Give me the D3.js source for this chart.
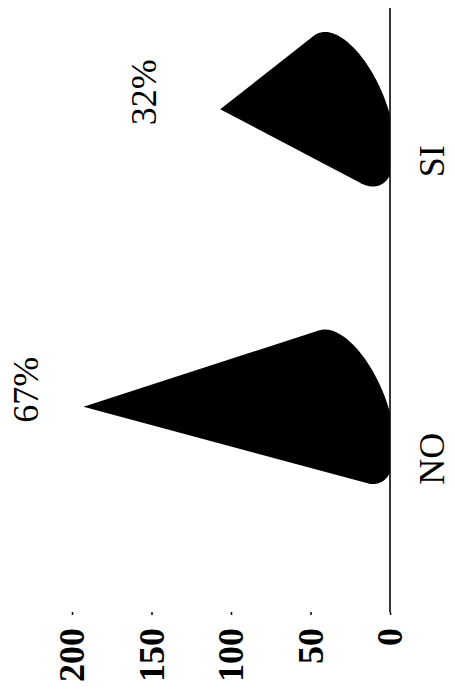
<!DOCTYPE html>
<html>
<head>
<meta charset="utf-8">
<script src="https://cdn.jsdelivr.net/npm/d3@7"></script>
<style>
  body { margin: 0; background: white; }
  svg { display: block; }
  .tickLabel { font-family: "Liberation Serif", "Times New Roman", serif; font-size: 36px; font-weight: bold; fill: black; }
  .catLabel, .pctLabel { font-family: "Liberation Serif", "Times New Roman", serif; font-size: 36px; fill: black; }
</style>
</head>
<body>
<svg id="chart-svg" width="455" height="689"></svg>
<script>
var categories = ["NO", "SI"];
var values = [167, 81];
var percentLabels = ["67%", "32%"];
var tickValues = [0, 50, 100, 150, 200];

var W = 455, H = 689;
var svg = d3.select("#chart-svg");

// the chart is drawn upright in a H x W frame and then turned a quarter left
var g = svg.append("g").attr("transform", "translate(0," + H + ") rotate(-90)");

var plot = { left: 77, right: 681 };
var x = d3.scaleBand().domain(categories).range([plot.left, plot.right]).paddingOuter(0.015).paddingInner(0);
var y = d3.scaleLinear().domain([0, 200]).range([390, 72]);

// 3d look: cones sit back in depth, base is a tilted ellipse
var depth = { dx: 52, dy: 41 };
var cone = { a: 82, b: 37, tilt: -22 * Math.PI / 180 };

function conePoints(d, i) {
  var cx = x(d) + x.bandwidth() / 2 + depth.dx;
  var cy = y(0) - depth.dy;
  var pts = d3.range(0, 2 * Math.PI, Math.PI / 90).map(function(t) {
    var ex = cone.a * Math.cos(t), ey = cone.b * Math.sin(t);
    return [cx + ex * Math.cos(cone.tilt) - ey * Math.sin(cone.tilt),
            cy + ex * Math.sin(cone.tilt) + ey * Math.cos(cone.tilt)];
  });
  pts.push([cx, y(values[i]) - depth.dy]);
  return d3.polygonHull(pts);
}

// clip the bases at the floor line
g.append("clipPath").attr("id", "floor-clip")
  .append("rect")
  .attr("x", 0).attr("y", 0)
  .attr("width", H).attr("height", y(0));

// Cones
g.selectAll(".cone")
  .data(categories)
  .enter()
  .append("path")
  .attr("class", "cone")
  .attr("clip-path", "url(#floor-clip)")
  .attr("d", function(d, i) {
    return d3.line().curve(d3.curveLinearClosed)(conePoints(d, i));
  })
  .style("fill", "black");

// Floor line
g.append("line")
  .attr("x1", plot.left)
  .attr("x2", plot.right)
  .attr("y1", y(0))
  .attr("y2", y(0))
  .style("stroke", "black")
  .style("stroke-width", 1.6);

// Value axis, no domain line
var yAxis = g.append("g")
  .attr("transform", "translate(" + plot.left + ",0)")
  .call(d3.axisLeft(y).tickValues(tickValues).tickSize(3).tickPadding(13));
yAxis.select(".domain").remove();
yAxis.selectAll(".tick line").style("stroke", "black").style("stroke-width", 1.5);
yAxis.selectAll(".tick text").attr("class", "tickLabel").attr("font-size", null).attr("font-family", null);
yAxis.attr("font-size", null).attr("font-family", null);

// Category labels
g.selectAll(".catLabel")
  .data(categories)
  .enter()
  .append("text")
  .attr("class", "catLabel")
  .attr("x", function(d) { return x(d) + x.bandwidth() / 2; })
  .attr("y", y(0) + 54)
  .attr("text-anchor", "middle")
  .text(function(d) { return d; });

// Percent labels above the tips, kept inside the frame
g.selectAll(".pctLabel")
  .data(percentLabels)
  .enter()
  .append("text")
  .attr("class", "pctLabel")
  .attr("x", function(d, i) { return x(categories[i]) + x.bandwidth() / 2 + depth.dx + 17; })
  .attr("y", function(d, i) { return Math.max(38, y(values[i]) - depth.dy - 64); })
  .attr("text-anchor", "middle")
  .text(function(d) { return d; });
</script>
</body>
</html>
